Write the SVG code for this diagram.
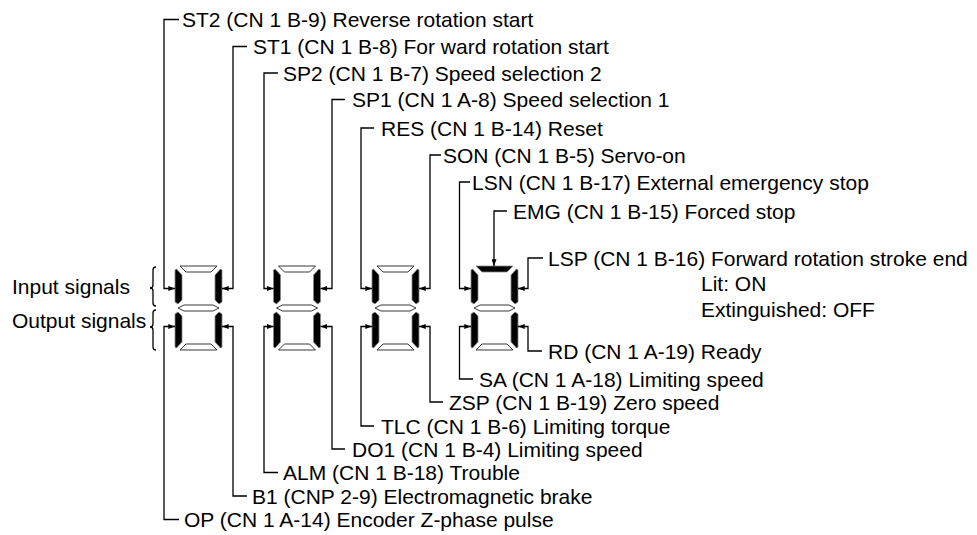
<svg xmlns="http://www.w3.org/2000/svg" xmlns:xlink="http://www.w3.org/1999/xlink" width="977" height="535" viewBox="0 0 977 535">
<style>
.t{font-family:"Liberation Sans",Arial,sans-serif;font-size:21px;fill:#000}
.ln{fill:none;stroke:#000;stroke-width:1.3}
.off{fill:#fff;stroke:#222;stroke-width:0.9}
.on{fill:#000;stroke:#888;stroke-width:0.8}
</style>
<defs>
<marker id="arr" viewBox="0 0 8 6" refX="8" refY="3" markerWidth="7" markerHeight="5" markerUnits="userSpaceOnUse" orient="auto"><path d="M0,0 L8,3 L0,6 z" fill="#000"/></marker>
<polygon id="sT" points="5,1 42,1 36,7 11,7"/>
<polygon id="sM" points="3,43 9,40 38,40 44,43 38,46 9,46"/>
<polygon id="sB" points="11,79 36,79 42,85 5,85"/>
<polygon id="sUL" points="0,5 1.5,4 7,10 7,35 3,39 0,37"/>
<polygon id="sUR" points="47,5 45.5,4 40,10 40,35 44,39 47,37"/>
<polygon id="sLL" points="0,49 3,47 7,51 7,77 1.5,83 0,82"/>
<polygon id="sLR" points="47,49 44,47 40,51 40,77 45.5,83 47,82"/>
</defs>
<rect width="977" height="535" fill="#fff"/>

<g id="labels-side">
<text class="t" x="12" y="294">Input signals</text>
<text class="t" x="12" y="328">Output signals</text>
<path class="ln" d="M156,267 Q153,267 153,270 V285 Q153,288 150,288 Q153,288 153,291 V303 Q153,306 156,306" stroke-width="1"/>
<path class="ln" d="M156,310 Q153,310 153,313 V324 Q153,327 150,327 Q153,327 153,330 V347 Q153,350 156,350" stroke-width="1"/>
</g>

<g id="digit1" transform="translate(175,265)">
<use xlink:href="#sT" class="off"/><use xlink:href="#sM" class="off"/><use xlink:href="#sB" class="off"/>
<use xlink:href="#sUL" class="on"/><use xlink:href="#sUR" class="on"/><use xlink:href="#sLL" class="on"/><use xlink:href="#sLR" class="on"/>
</g>
<g id="digit2" transform="translate(273.5,265)">
<use xlink:href="#sT" class="off"/><use xlink:href="#sM" class="off"/><use xlink:href="#sB" class="off"/>
<use xlink:href="#sUL" class="on"/><use xlink:href="#sUR" class="on"/><use xlink:href="#sLL" class="on"/><use xlink:href="#sLR" class="on"/>
</g>
<g id="digit3" transform="translate(372,265)">
<use xlink:href="#sT" class="off"/><use xlink:href="#sM" class="off"/><use xlink:href="#sB" class="off"/>
<use xlink:href="#sUL" class="on"/><use xlink:href="#sUR" class="on"/><use xlink:href="#sLL" class="on"/><use xlink:href="#sLR" class="on"/>
</g>
<g id="digit4" transform="translate(471,265)">
<use xlink:href="#sT" class="on"/><use xlink:href="#sM" class="off"/><use xlink:href="#sB" class="off"/>
<use xlink:href="#sUL" class="on"/><use xlink:href="#sUR" class="on"/><use xlink:href="#sLL" class="on"/><use xlink:href="#sLR" class="on"/>
</g>

<g id="connectors" class="ln" marker-end="url(#arr)">
<path d="M179,19.5 H164 V288.5 H175"/>
<path d="M247,46.5 H233 V288.5 H222"/>
<path d="M278,73 H264 V288.5 H273.5"/>
<path d="M345,99.5 H332 V288.5 H320.5"/>
<path d="M374,128 H361 V288.5 H372"/>
<path d="M441,155 H430 V288.5 H419"/>
<path d="M470,182 H459.5 V288.5 H471"/>
<path d="M507,211 H494 V266"/>
<path d="M543,258 H528 V288.5 H518"/>
<path d="M179,519.5 H164 V326.5 H175"/>
<path d="M247,496 H233 V326.5 H222"/>
<path d="M278,472.5 H264 V326.5 H273.5"/>
<path d="M345,449 H332 V326.5 H320.5"/>
<path d="M374,426 H361 V326.5 H372"/>
<path d="M443,402 H430 V326.5 H419"/>
<path d="M473,379 H459.5 V326.5 H471"/>
<path d="M542,351 H528 V326.5 H518"/>
</g>

<g id="texts">
<text class="t" x="182" y="27">ST2 (CN 1 B-9) Reverse rotation start</text>
<text class="t" x="253" y="54">ST1 (CN 1 B-8) For ward rotation start</text>
<text class="t" x="283" y="80.5">SP2 (CN 1 B-7) Speed selection 2</text>
<text class="t" x="352" y="107">SP1 (CN 1 A-8) Speed selection 1</text>
<text class="t" x="381" y="135.5">RES (CN 1 B-14) Reset</text>
<text class="t" x="443" y="162.5">SON (CN 1 B-5) Servo-on</text>
<text class="t" x="472" y="189.5">LSN (CN 1 B-17) External emergency stop</text>
<text class="t" x="513" y="218.5">EMG (CN 1 B-15) Forced stop</text>
<text class="t" x="548" y="265.5">LSP (CN 1 B-16) Forward rotation stroke end</text>
<text class="t" x="701" y="291">Lit: ON</text>
<text class="t" x="701" y="316.5">Extinguished: OFF</text>
<text class="t" x="548" y="358.5">RD (CN 1 A-19) Ready</text>
<text class="t" x="479" y="386.5">SA (CN 1 A-18) Limiting speed</text>
<text class="t" x="449" y="409.5">ZSP (CN 1 B-19) Zero speed</text>
<text class="t" x="381" y="433.5">TLC (CN 1 B-6) Limiting torque</text>
<text class="t" x="352" y="456.5">DO1 (CN 1 B-4) Limiting speed</text>
<text class="t" x="283" y="480">ALM (CN 1 B-18) Trouble</text>
<text class="t" x="252" y="503.5">B1 (CNP 2-9) Electromagnetic brake</text>
<text class="t" x="184" y="527">OP (CN 1 A-14) Encoder Z-phase pulse</text>
</g>
</svg>
